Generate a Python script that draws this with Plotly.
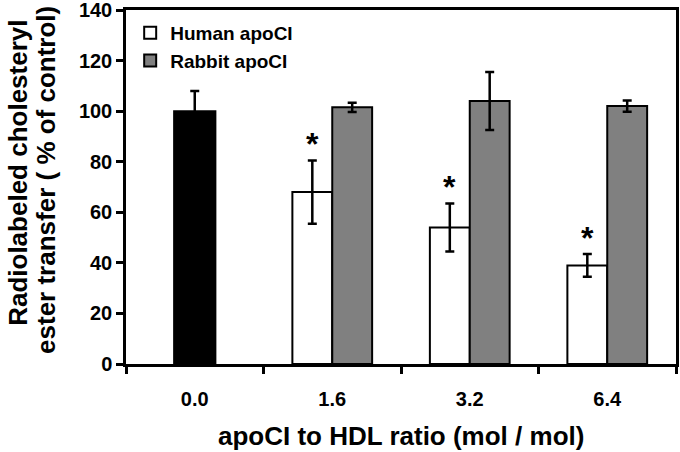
import plotly.graph_objects as go

categories = ["0.0", "1.6", "3.2", "6.4"]
control_x = ["0.0"]
control_val = [100]
control_err = [8]
treat_x = ["1.6", "3.2", "6.4"]
human_val = [68, 54, 39]
human_err = [12.5, 9.5, 4.5]
rabbit_val = [101.5, 104, 102]
rabbit_err = [1.8, 11.5, 2.2]
y_ticks = [0, 20, 40, 60, 80, 100, 120, 140]

FONT = "Liberation Sans, Arial, sans-serif"
BW = 0.29

fig = go.Figure()
fig.add_trace(go.Bar(
    x=control_x, y=control_val, width=0.3, offset=-0.15,
    marker=dict(color="black", line=dict(color="black", width=2)),
    error_y=dict(type="data", array=control_err, color="black", thickness=2.5, width=4.5),
    showlegend=False,
))
fig.add_trace(go.Bar(
    x=treat_x, y=human_val, width=BW, offset=-BW, name="Human apoCI",
    legendgroup="h",
    marker=dict(color="white", line=dict(color="black", width=2)),
    error_y=dict(type="data", array=human_err, color="black", thickness=2.5, width=4.5),
))
fig.add_trace(go.Bar(
    x=treat_x, y=rabbit_val, width=BW, offset=0, name="Rabbit apoCI",
    legendgroup="r",
    marker=dict(color="#808080", line=dict(color="black", width=2)),
    error_y=dict(type="data", array=rabbit_err, color="black", thickness=2.5, width=4.5),
))

# significance asterisks above the human apoCI bars
for xc, v, e in zip(treat_x, human_val, human_err):
    idx = categories.index(xc)
    fig.add_annotation(
        x=idx - BW / 2, y=v + e, xref="x", yref="y", text="*", showarrow=False,
        yshift=-4, yanchor="bottom",
        font=dict(family=FONT, size=32, color="black"),
    )

TITLE_FONT = dict(family=FONT, size=26, color="black", weight="bold")
fig.add_annotation(
    x=0, xref="paper", xanchor="center", xshift=-108, y=0.54, yref="paper",
    yanchor="middle", text="Radiolabeled cholesteryl",
    textangle=-90, showarrow=False, font=TITLE_FONT,
)
fig.add_annotation(
    x=0, xref="paper", xanchor="center", xshift=-80, y=0.52, yref="paper",
    yanchor="middle", text="ester transfer ( % of control)",
    textangle=-90, showarrow=False, font=TITLE_FONT,
)
fig.add_annotation(
    x=0.5, xref="paper", xanchor="center", y=0, yref="paper", yanchor="middle",
    yshift=-72, text="apoCI to HDL ratio (mol / mol)", showarrow=False, font=TITLE_FONT,
)

fig.update_layout(
    width=680, height=452,
    margin=dict(l=126, r=4, t=10, b=88),
    paper_bgcolor="white", plot_bgcolor="white",
    barmode="overlay",
    font=dict(family=FONT, color="black", weight="bold"),
    legend=dict(
        x=0.0076, y=0.989, xanchor="left", yanchor="top",
        font=dict(family=FONT, size=19, color="black", weight="bold"),
        bgcolor="rgba(0,0,0,0)", tracegroupgap=0,
    ),
    xaxis=dict(
        type="category", categoryorder="array", categoryarray=categories,
        range=[-0.5, 3.5], showline=True, linecolor="black", linewidth=2.5, mirror=True,
        ticks="outside", tickson="boundaries", ticklen=7, tickwidth=2.5, tickcolor="black",
        tickfont=dict(family=FONT, size=20, color="black", weight="bold"),
        ticklabelstandoff=15, automargin=False, ticklabeloverflow="allow",
        showgrid=False, zeroline=False,
    ),
    yaxis=dict(
        range=[0, 140], tickvals=y_ticks, showline=True, linecolor="black", linewidth=2.5,
        mirror=True, ticks="outside", ticklen=7, tickwidth=2.5, tickcolor="black",
        tickfont=dict(family=FONT, size=20, color="black", weight="bold"),
        automargin=False, ticklabeloverflow="allow", showgrid=False, zeroline=False,
    ),
)

fig.write_html("out.html", config={"displayModeBar": False},
               post_script="document.body.style.margin='0';")
